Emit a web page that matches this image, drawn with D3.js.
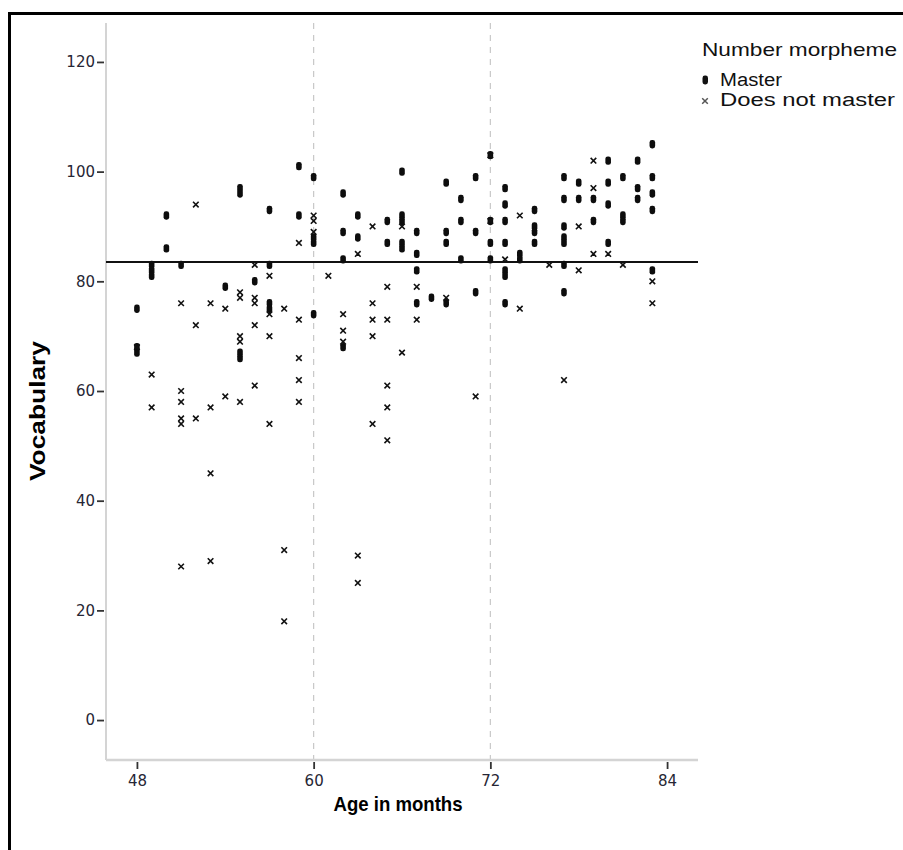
<!DOCTYPE html>
<html>
<head>
<meta charset="utf-8">
<script src="https://cdn.jsdelivr.net/npm/d3@7"></script>
<style>
  body { margin: 0; background: #fff; }
  svg { display: block; }
</style>
</head>
<body>
<svg id="chart"></svg>
<script>
// values: [age in months, vocabulary]
var masterPoints = [
    [48,75],[48,68],[48,67],[49,83],[49,82],[49,81],[50,92],[50,86],[51,83],
    [54,79],[55,97],[55,96],[55,67],[55,66],[56,80],[57,93],[57,83],[57,76],[57,75],
    [59,101],[59,92],[60,99],[60,88],[60,87],[60,74],[62,96],[62,89],[62,84],[62,68],
    [63,92],[63,88],[65,91],[65,87],[66,100],[66,92],[66,91],[66,87],[66,86],
    [67,89],[67,85],[67,82],[67,76],[68,77],[69,98],[69,89],[69,87],[69,76],
    [70,95],[70,91],[70,84],[71,99],[71,89],[71,78],[72,103],[72,91],[72,87],[72,84],
    [73,97],[73,94],[73,91],[73,87],[73,82],[73,81],[73,76],[74,85],[74,84],
    [75,93],[75,90],[75,89],[75,87],[77,99],[77,95],[77,90],[77,88],[77,87],[77,83],[77,78],
    [78,98],[78,95],[79,95],[79,91],[80,102],[80,98],[80,94],[80,87],
    [81,99],[81,92],[81,91],[82,102],[82,97],[82,95],[83,105],[83,99],[83,96],[83,93],[83,82]
];
var notMasterPoints = [
    [48,68],[49,63],[49,57],[51,76],[51,60],[51,58],[51,55],[51,54],[51,28],
    [52,94],[52,72],[52,55],[53,76],[53,57],[53,45],[53,29],[54,75],[54,59],
    [55,78],[55,77],[55,70],[55,69],[55,58],[56,83],[56,77],[56,76],[56,72],[56,61],
    [57,81],[57,74],[57,70],[57,54],[58,75],[58,31],[58,18],
    [59,87],[59,73],[59,66],[59,62],[59,58],[60,92],[60,91],[60,89],[61,81],
    [62,74],[62,71],[62,69],[63,85],[63,30],[63,25],[64,90],[64,76],[64,73],[64,70],[64,54],
    [65,79],[65,73],[65,61],[65,57],[65,51],[66,90],[66,67],[67,79],[67,73],[69,77],[71,59],
    [72,103],[72,91],[73,84],[74,92],[74,75],[76,83],[77,62],[78,90],[78,82],
    [79,102],[79,97],[79,85],[80,85],[81,83],[83,80],[83,76]
];
var xTicks = [48, 60, 72, 84];
var yTicks = [0, 20, 40, 60, 80, 100, 120];
var refLines = [60, 72];     // dashed vertical lines
var meanVocab = 83.5;        // solid horizontal line
var legendLabels = ["Master", "Does not master"];

var W = 903, H = 850;
var svg = d3.select("#chart").attr("width", W).attr("height", H);

svg.append("rect").attr("width", W).attr("height", H).attr("fill", "#fff");
// frame
svg.append("rect")
    .attr("x", 9.5).attr("y", 13.5)
    .attr("width", W).attr("height", H)
    .attr("fill", "none").attr("stroke", "#000").attr("stroke-width", 3);

var pLeft = 106, pRight = 698, pTop = 23, pBottom = 759;

var x = d3.scaleLinear().domain([45.9, 86.1]).range([pLeft, pRight]);
var y = d3.scaleLinear().domain([-7.1, 127.1]).range([pBottom, pTop]);

// dashed reference lines
svg.selectAll(".vref")
    .data(refLines)
    .enter().append("line")
    .attr("x1", function(d) { return x(d); })
    .attr("x2", function(d) { return x(d); })
    .attr("y1", pTop).attr("y2", pBottom)
    .attr("stroke", "#c8c8c8").attr("stroke-width", 1.2)
    .attr("stroke-dasharray", "6,6");

// axis lines
svg.append("line").attr("x1", pLeft).attr("x2", pLeft).attr("y1", pTop).attr("y2", pBottom + 1)
    .attr("stroke", "#d4d4d4").attr("stroke-width", 2);
svg.append("line").attr("x1", pLeft).attr("x2", pRight).attr("y1", pBottom + 1).attr("y2", pBottom + 1)
    .attr("stroke", "#d4d4d4").attr("stroke-width", 2.5);

// y axis ticks
var yAxis = svg.append("g")
    .attr("transform", "translate(" + (pLeft - 2) + ",0)")
    .call(d3.axisLeft(y).tickValues(yTicks).tickSize(7).tickPadding(2));
// x axis ticks
var xAxis = svg.append("g")
    .attr("transform", "translate(0," + (pBottom + 3) + ")")
    .call(d3.axisBottom(x).tickValues(xTicks).tickSize(7).tickPadding(6));

[yAxis, xAxis].forEach(function(a) {
    a.select(".domain").remove();
    a.attr("font-size", null).attr("font-family", null);
    a.selectAll(".tick line").attr("stroke", "#333").attr("stroke-width", 1.8);
    a.selectAll(".tick text")
        .attr("fill", "#262634")
        .style("font-family", "'DejaVu Sans', sans-serif")
        .style("font-size", "15px");
});

// mean line
svg.append("line")
    .attr("x1", pLeft).attr("x2", pRight)
    .attr("y1", y(meanVocab)).attr("y2", y(meanVocab))
    .attr("stroke", "#111").attr("stroke-width", 2);

// master: small rounded bars
svg.selectAll(".master")
    .data(masterPoints)
    .enter().append("rect")
    .attr("class", "master")
    .attr("x", function(d) { return x(d[0]) - 2.8; })
    .attr("y", function(d) { return y(d[1]) - 4.2; })
    .attr("width", 5.6).attr("height", 8.4)
    .attr("rx", 2.4)
    .attr("fill", "#0d0d0d");

// does not master: crosses
var cross = "M-2.8,-2.8L2.8,2.8M-2.8,2.8L2.8,-2.8";
svg.selectAll(".nomaster")
    .data(notMasterPoints)
    .enter().append("path")
    .attr("class", "nomaster")
    .attr("transform", function(d) { return "translate(" + x(d[0]) + "," + y(d[1]) + ")"; })
    .attr("d", cross)
    .attr("stroke", "#111").attr("stroke-width", 1.6)
    .attr("fill", "none");

// axis titles
svg.append("text")
    .attr("transform", "translate(45,411) rotate(-90)")
    .attr("text-anchor", "middle")
    .attr("textLength", 140).attr("lengthAdjust", "spacingAndGlyphs")
    .style("font-family", "'Liberation Sans', Arial, sans-serif")
    .style("font-weight", "bold").style("font-size", "22px")
    .text("Vocabulary");
svg.append("text")
    .attr("x", 398).attr("y", 811)
    .attr("text-anchor", "middle")
    .attr("textLength", 129).attr("lengthAdjust", "spacingAndGlyphs")
    .style("font-family", "'Liberation Sans', Arial, sans-serif")
    .style("font-weight", "bold").style("font-size", "21px")
    .text("Age in months");

// legend
var legend = svg.append("g").style("font-family", "'Liberation Sans', Arial, sans-serif");
legend.append("text")
    .attr("x", 702).attr("y", 56)
    .attr("textLength", 195).attr("lengthAdjust", "spacingAndGlyphs")
    .style("font-size", "19px").attr("fill", "#111")
    .text("Number morpheme");
legend.append("rect")
    .attr("x", 702.5).attr("y", 75.5).attr("width", 5.5).attr("height", 9).attr("rx", 2.4)
    .attr("fill", "#111");
legend.append("path")
    .attr("transform", "translate(705,101)")
    .attr("d", cross).attr("stroke", "#555").attr("stroke-width", 1.5);
legend.selectAll(".lg")
    .data(legendLabels)
    .enter().append("text")
    .attr("x", 720)
    .attr("y", function(d, i) { return 86 + i * 20; })
    .attr("textLength", function(d, i) { return i === 0 ? 62 : 175; })
    .attr("lengthAdjust", "spacingAndGlyphs")
    .style("font-size", "18px").attr("fill", "#111")
    .text(function(d) { return d; });
</script>
</body>
</html>
